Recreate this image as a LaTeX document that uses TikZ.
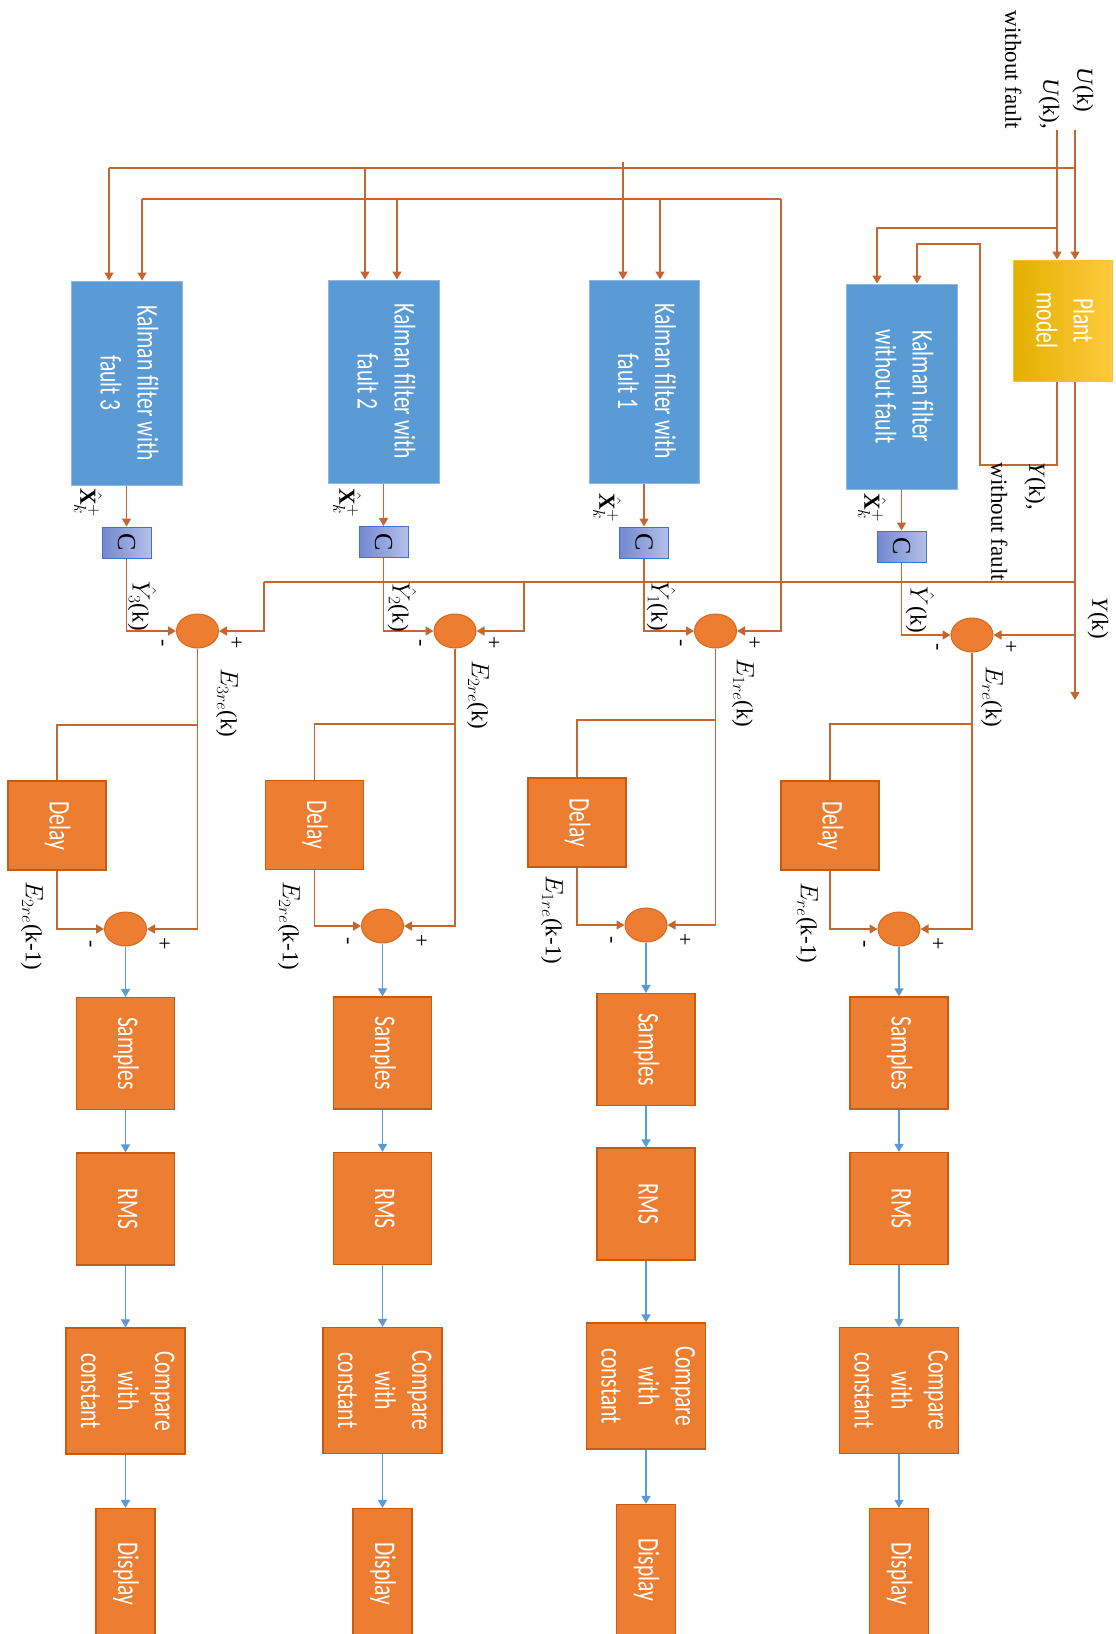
\documentclass[tikz,border=0pt]{standalone}
\usepackage{fontspec}
\setmainfont{Liberation Serif}
\newfontfamily\boxfont{Carlito}
\usetikzlibrary{arrows.meta,shapes.geometric}

\definecolor{wirec}{HTML}{C4662F}
\definecolor{flowc}{HTML}{5B9BD5}
\definecolor{boxorange}{HTML}{ED7D31}
\definecolor{boxedge}{HTML}{C55A11}
\definecolor{sumedge}{HTML}{D4691F}
\definecolor{kfblue}{HTML}{5B9BD5}
\definecolor{kfedge}{HTML}{8DB8E3}
\definecolor{golddark}{HTML}{E2B000}
\definecolor{goldmid}{HTML}{FFC000}
\definecolor{goldlight}{HTML}{FFCA3C}
\definecolor{goldedge}{HTML}{F6C140}
\definecolor{cleft}{HTML}{7288D0}
\definecolor{cright}{HTML}{B3C0E9}
\definecolor{cedge}{HTML}{4472C4}

% block text: turned to read downwards, set narrow
\newcommand\bxtext[1]{\rotatebox[origin=c]{-90}{\scalebox{0.72}[1]{\begin{tabular}{@{}c@{}}#1\end{tabular}}}}
% signal labels: turned to read downwards
\newcommand\rlabel[1]{\rotatebox[origin=c]{-90}{#1}}

\begin{document}
\begin{tikzpicture}[x=1pt,y=-1pt,
  wire/.style={draw=wirec, line width=1.6pt},
  flow/.style={draw=flowc, line width=1.6pt},
  arr/.style={-{Triangle[length=8pt,width=9pt]}},
  blk/.style 2 args={draw=boxedge, line width=1.2pt, fill=boxorange, text=white,
    inner sep=0pt, minimum width=#1, minimum height=#2,
    font=\boxfont\fontsize{30}{37}\selectfont},
  kf/.style 2 args={draw=kfedge, line width=1pt, fill=kfblue, text=white,
    inner sep=0pt, minimum width=#1, minimum height=#2,
    font=\boxfont\fontsize{30}{37}\selectfont},
  plant/.style={draw=goldedge, line width=1pt, left color=golddark, middle color=goldmid,
    right color=goldlight, text=white, inner sep=0pt,
    minimum width=99pt, minimum height=121pt,
    font=\boxfont\fontsize{30}{37}\selectfont},
  cbox/.style={draw=cedge, line width=1pt, left color=cleft, right color=cright,
    inner sep=0pt, minimum width=49pt, minimum height=31pt,
    font=\fontsize{26}{30}\selectfont},
  sumnode/.style={ellipse, draw=sumedge, line width=1pt, fill=boxorange,
    inner sep=0pt, minimum width=42pt, minimum height=34pt},
  lbl/.style={inner sep=0pt, font=\fontsize{23}{27}\selectfont},
  pm/.style={inner sep=0pt, font=\fontsize{22}{26}\selectfont}
]
\useasboundingbox (0,0) rectangle (1116,1634);
\fill[white] (0,0) rectangle (1116,1634);
\clip (0,0) rectangle (1116,1634);

% ---------- plant and Kalman filters ----------
\node[plant] (plant) at (1062.5,320.5) {\bxtext{Plant\\model}};
\node[kf={111pt}{205pt}] (kf0) at (901.5,386.5) {\bxtext{Kalman filter\\without fault}};
\node[kf={110pt}{203pt}] (kf1) at (644,381.5) {\bxtext{Kalman filter with\\fault 1}};
\node[kf={111pt}{203pt}] (kf2) at (383.5,381.5) {\bxtext{Kalman filter with\\fault 2}};
\node[kf={111pt}{204pt}] (kf3) at (126.5,383) {\bxtext{Kalman filter with\\fault 3}};

% ---------- output matrices ----------
\node[cbox] (c0) at (901.5,546.5) {\rlabel{C}};
\node[cbox] (c1) at (644,542.5) {\rlabel{C}};
\node[cbox] (c2) at (383.5,542) {\rlabel{C}};
\node[cbox] (c3) at (126.5,542.5) {\rlabel{C}};

% ---------- residual sums ----------
\node[sumnode] (e0) at (972,635) {};
\node[sumnode] (e1) at (715.5,631) {};
\node[sumnode] (e2) at (455,631) {};
\node[sumnode] (e3) at (197.5,631) {};

% ---------- delays ----------
\node[blk={98pt}{89pt}] (dl0) at (830,825.5) {\bxtext{Delay}};
\node[blk={98pt}{89pt}] (dl1) at (577,822.5) {\bxtext{Delay}};
\node[blk={98pt}{89pt}] (dl2) at (314.5,825) {\bxtext{Delay}};
\node[blk={98pt}{89pt}] (dl3) at (57,825.5) {\bxtext{Delay}};

% ---------- difference sums ----------
\node[sumnode] (q0) at (899,929) {};
\node[sumnode] (q1) at (646,925) {};
\node[sumnode] (q2) at (382.5,926) {};
\node[sumnode] (q3) at (125.5,929) {};

% ---------- evaluation chains ----------
\node[blk={98pt}{112pt}] (sm0) at (899,1053) {\bxtext{Samples}};
\node[blk={98pt}{112pt}] (sm1) at (646,1049.5) {\bxtext{Samples}};
\node[blk={98pt}{112pt}] (sm2) at (382.5,1053) {\bxtext{Samples}};
\node[blk={98pt}{112pt}] (sm3) at (125.5,1053.5) {\bxtext{Samples}};

\node[blk={98pt}{112pt}] (rm0) at (899,1208.5) {\bxtext{RMS}};
\node[blk={98pt}{112pt}] (rm1) at (646,1204) {\bxtext{RMS}};
\node[blk={98pt}{112pt}] (rm2) at (382.5,1208.5) {\bxtext{RMS}};
\node[blk={98pt}{112pt}] (rm3) at (125.5,1209) {\bxtext{RMS}};

\node[blk={119pt}{126pt}] (cp0) at (899,1390.5) {\bxtext{Compare\\with\\constant}};
\node[blk={119pt}{126pt}] (cp1) at (646,1386) {\bxtext{Compare\\with\\constant}};
\node[blk={119pt}{126pt}] (cp2) at (382.5,1390.5) {\bxtext{Compare\\with\\constant}};
\node[blk={119pt}{126pt}] (cp3) at (125.5,1391) {\bxtext{Compare\\with\\constant}};

\node[blk={59pt}{131pt}] (dp0) at (899,1574) {\bxtext{Display}};
\node[blk={59pt}{131pt}] (dp1) at (646,1570) {\bxtext{Display}};
\node[blk={59pt}{131pt}] (dp2) at (382.5,1574) {\bxtext{Display}};
\node[blk={59pt}{131pt}] (dp3) at (125.5,1574) {\bxtext{Display}};

% ---------- inputs to the plant ----------
\coordinate (uin) at (1075,130);
\coordinate (uwin) at (1057,130);
\draw[wire,arr] (uin) -- (uin |- plant.north);
\draw[wire,arr] (uwin) -- (uwin |- plant.north);

% U(k) bus to the faulty filters
\coordinate (ubus) at (1075,168);
\coordinate (ub1) at (623,162);
\coordinate (ub2) at (365,168);
\coordinate (ub3) at (109,168);
\draw[wire] (ubus) -- (ub3);
\draw[wire,arr] (ub3) -- (ub3 |- kf3.north);
\draw[wire,arr] (ub2) -- (ub2 |- kf2.north);
\draw[wire,arr] (ub1) -- (ub1 |- kf1.north);

% U(k) without fault to the reference filter
\coordinate (uwb) at (1057,228);
\coordinate (uw0) at (877,228);
\draw[wire,arr] (uwb) -- (uw0) -- (uw0 |- kf0.north);

% Y(k) without fault fed back to the reference filter
\coordinate (yw1) at (1057,465);
\coordinate (yw2) at (980,465);
\coordinate (yw3) at (980,244);
\coordinate (yw4) at (917,244);
\draw[wire,arr] (uwin |- plant.south) -- (yw1) -- (yw2) -- (yw3) -- (yw4) -- (yw4 |- kf0.north);

% Y(k) output and its bus
\coordinate (yout) at (1075,700);
\draw[wire,arr] (uin |- plant.south) -- (yout);
\coordinate (ybus) at (1075,582);
\coordinate (yb2) at (524,582);
\coordinate (yb3) at (264,582);
\draw[wire] (ybus) -- (yb3);
\draw[wire,arr] (uin |- e0.east) -- (e0.east);
\draw[wire,arr] (yb2) |- (e2.east);
\draw[wire,arr] (yb3) |- (e3.east);

% second bus to the faulty filters
\coordinate (fb) at (781,199);
\coordinate (fb1) at (660,199);
\coordinate (fb2) at (397,199);
\coordinate (fb3) at (142,199);
\draw[wire,arr] (fb) |- (e1.east);
\draw[wire] (fb) -- (fb3);
\draw[wire,arr] (fb1) -- (fb1 |- kf1.north);
\draw[wire,arr] (fb2) -- (fb2 |- kf2.north);
\draw[wire,arr] (fb3) -- (fb3 |- kf3.north);

% branch points below the residual sums
\coordinate (j0) at (972,724);
\coordinate (j1) at (715.5,720);
\coordinate (j2) at (455,724);
\coordinate (j3) at (197.5,725);

\foreach \i in {0,1,2,3} {
  \draw[wire,arr] (kf\i.south) -- (c\i.north);
  \draw[wire,arr] (c\i.south) |- (e\i.west);
  \draw[wire] (e\i.south) -- (j\i) -| (dl\i.north);
  \draw[wire,arr] (j\i) |- (q\i.east);
  \draw[wire,arr] (dl\i.south) |- (q\i.west);
  \draw[flow,arr] (q\i.south) -- (sm\i.north);
  \draw[flow,arr] (sm\i.south) -- (rm\i.north);
  \draw[flow,arr] (rm\i.south) -- (cp\i.north);
  \draw[flow,arr] (cp\i.south) -- (dp\i.north);
  \path (e\i) ++(-37,12) node[pm] (em\i) {\rlabel{-}};
  \path (e\i) ++(38,12) node[pm] (ep\i) {\rlabel{+}};
  \path (q\i) ++(-37,15) node[pm] (qm\i) {\rlabel{-}};
  \path (q\i) ++(38,15) node[pm] (qp\i) {\rlabel{+}};
}

% ---------- signal labels ----------
\node[lbl] (lu) at (1083,90) {\rlabel{\textit{U}(k)}};
\node[lbl, font=\fontsize{23}{38}\selectfont] (luw) at (1032,70)
  {\rlabel{\begin{tabular}{@{}r@{}}\textit{U}(k),\\without fault\end{tabular}}};
\node[lbl, font=\fontsize{23}{38}\selectfont] (lyw) at (1018,522)
  {\rlabel{\begin{tabular}{@{}l@{}}\textit{Y}(k),\\without fault\end{tabular}}};
\node[lbl] (ly) at (1098,618) {\rlabel{\textit{Y}(k)}};

\node[lbl] (lx0) at (872,508) {\rlabel{$\hat{\mathbf{X}}_k^{+}$}};
\node[lbl] (lx1) at (607,508) {\rlabel{$\hat{\mathbf{X}}_k^{+}$}};
\node[lbl] (lx2) at (347,503) {\rlabel{$\hat{\mathbf{X}}_k^{+}$}};
\node[lbl] (lx3) at (88,503) {\rlabel{$\hat{\mathbf{X}}_k^{+}$}};

\node[lbl] (lyh0) at (920,610) {\rlabel{$\hat{Y}$(k)}};
\node[lbl] (lyh1) at (661,606) {\rlabel{$\hat{Y}_1$(k)}};
\node[lbl] (lyh2) at (402,607) {\rlabel{$\hat{Y}_2$(k)}};
\node[lbl] (lyh3) at (142,606) {\rlabel{$\hat{Y}_3$(k)}};

\node[lbl] (le0) at (992,697) {\rlabel{$E_{re}$(k)}};
\node[lbl] (le1) at (743,693) {\rlabel{$E_{1re}$(k)}};
\node[lbl] (le2) at (478,695) {\rlabel{$E_{2re}$(k)}};
\node[lbl] (le3) at (227,703) {\rlabel{$E_{3re}$(k)}};

\node[lbl] (ld0) at (807,923) {\rlabel{$E_{re}$(k-1)}};
\node[lbl] (ld1) at (552,920) {\rlabel{$E_{1re}$(k-1)}};
\node[lbl] (ld2) at (289,926) {\rlabel{$E_{2re}$(k-1)}};
\node[lbl] (ld3) at (32,926) {\rlabel{$E_{2re}$(k-1)}};
\end{tikzpicture}
\end{document}
